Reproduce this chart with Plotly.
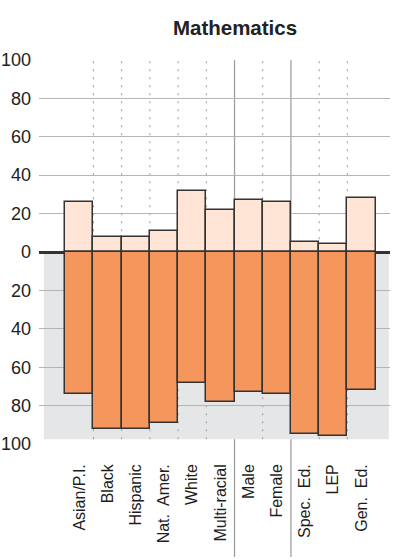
import plotly.graph_objects as go

# ---- data ----
categories = ["Asian/P.I.", "Black", "Hispanic", "Nat.\u00a0 Amer.", "White", "Multi-racial",
              "Male", "Female", "Spec.\u00a0 Ed.", "LEP", "Gen.\u00a0 Ed."]
group_sizes = [6, 2, 3]          # race/ethnicity, gender, program
above_values = [26, 8, 8, 11, 32, 22, 27, 26, 5, 4, 28]    # upper (light) bars
below_values = [74, 92, 92, 89, 68, 78, 73, 74, 95, 96, 72]  # lower (orange) bars
tick_values = [-100, -80, -60, -40, -20, 0, 20, 40, 60, 80, 100]
tick_labels = ["100", "80", "60", "40", "20", "0", "20", "40", "60", "80", "100"]
title_text = "Mathematics"

LIGHT = "#FEE5D5"
ORANGE = "#F5965C"
EDGE = "#333333"
GRAY_BG = "#E5E6E8"
GRID = "#B4B4B4"
FONT = "Liberation Sans, Arial, sans-serif"

W, H = 400, 559

n = len(categories)
fig = go.Figure()
fig.add_trace(go.Bar(x=categories, y=above_values, marker=dict(color=LIGHT, line=dict(color=EDGE, width=1.5)),
                     hoverinfo="x+y", showlegend=False))
fig.add_trace(go.Bar(x=categories, y=[-v for v in below_values],
                     marker=dict(color=ORANGE, line=dict(color=EDGE, width=1.5)),
                     hoverinfo="x+y", showlegend=False))

y_lo, y_hi = -100.5, 100.5
shade_bottom = -97.5

shapes = []
# grey band under the zero line
shapes.append(dict(type="rect", xref="x", yref="y", x0=-1.26, x1=10.97, y0=shade_bottom, y1=0,
                   fillcolor=GRAY_BG, line=dict(width=0), layer="below"))
# vertical separators
breaks = []
acc = 0
for s in group_sizes[:-1]:
    acc += s
    breaks.append(acc - 0.5)
top_paper = (100 - y_lo) / (y_hi - y_lo)
for i in range(n - 1):
    xb = i + 0.5
    if xb in breaks:
        shapes.append(dict(type="line", xref="x", yref="paper", x0=xb, x1=xb, y0=-0.29, y1=top_paper,
                           line=dict(color="#9A9A9A", width=1.2), layer="below"))
    else:
        shapes.append(dict(type="line", xref="x", yref="y", x0=xb, x1=xb, y0=shade_bottom, y1=100,
                           line=dict(color="#9A9A9A", width=1, dash="2px,6px"), layer="below"))

fig.update_layout(
    width=W, height=H,
    margin=dict(l=39, r=10, t=58.5, b=114, autoexpand=False),
    paper_bgcolor="white", plot_bgcolor="white",
    barmode="relative", bargap=0,
    shapes=shapes,
    title=dict(text="<b>" + title_text + "</b>", x=235 / W, xanchor="center", xref="container",
               y=1 - 28 / H, yanchor="middle", yref="container",
               font=dict(family=FONT, size=20.5, color="#222222")),
    font=dict(family=FONT, color="#222222"),
    xaxis=dict(type="category", range=[-1.43, 11.01], showgrid=False, zeroline=False,
               showline=False, ticks="", tickangle=-90, tickfont=dict(size=16, color="#1E1E1E"),
               ticklabelstandoff=15, fixedrange=True, automargin=False),
    yaxis=dict(range=[y_lo, y_hi], tickvals=tick_values, ticktext=tick_labels,
               showgrid=True, gridcolor=GRID, gridwidth=1.3,
               zeroline=True, zerolinecolor="#333333", zerolinewidth=3,
               showline=False, ticks="", tickfont=dict(size=18, color="#222222"),
               ticklabelstandoff=7, fixedrange=True, automargin=False),
)

fig.write_html("out.html", config={"displayModeBar": False},
               post_script="document.body.style.margin='0';")
